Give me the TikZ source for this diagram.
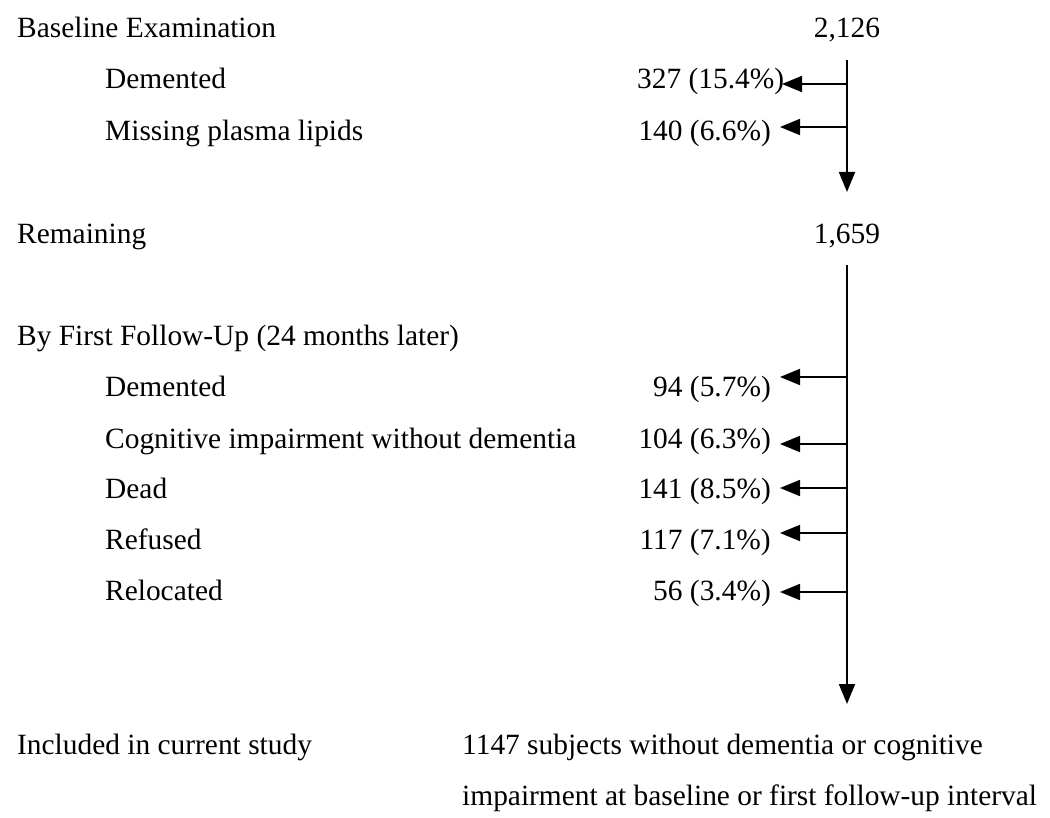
\documentclass[tikz,border=0pt]{standalone}
\usepackage{fontspec}
\setmainfont{Liberation Serif}
\usetikzlibrary{arrows.meta}
\begin{document}
\begin{tikzpicture}[x=1pt,y=-1pt,
  lbl/.style={anchor=base west,inner sep=0pt,font=\fontsize{29.4}{35}\selectfont},
  num/.style={anchor=base east,inner sep=0pt,font=\fontsize{29.4}{35}\selectfont},
  ctr/.style={anchor=base,inner sep=0pt,font=\fontsize{29.4}{35}\selectfont},
  flow/.style={line width=1.8pt,-{Triangle[length=20pt,width=16pt]}}]
\useasboundingbox (0,0) rectangle (1050,818);
% left labels
\node[lbl] (l1) at (17,38) {Baseline Examination};
\node[lbl] (l2) at (105,89) {Demented};
\node[lbl] (l3) at (105,141) {Missing plasma lipids};
\node[lbl] (l4) at (17,244) {Remaining};
\node[lbl] (l5) at (17,346) {By First Follow-Up (24 months later)};
\node[lbl] (l6) at (105,396) {Demented};
\node[lbl] (l7) at (105,448) {Cognitive impairment without dementia};
\node[lbl] (l8) at (105,498) {Dead};
\node[lbl] (l9) at (105,549) {Refused};
\node[lbl] (l10) at (105,600) {Relocated};
\node[lbl] (l11) at (17,754) {Included in current study};
% counts
\node[ctr] (n0) at (847,38) {2,126};
\node[lbl] (n1) at (637,89) {327 (15.4\%)};
\node[num] (n2) at (771,141) {140 (6.6\%)};
\node[ctr] (n3) at (847,244) {1,659};
\node[num] (n4) at (771,396) {94 (5.7\%)};
\node[num] (n5) at (771,448) {104 (6.3\%)};
\node[num] (n6) at (771,498) {141 (8.5\%)};
\node[num] (n7) at (771,549) {117 (7.1\%)};
\node[num] (n8) at (771,600) {56 (3.4\%)};
\node[lbl] (f1) at (462,754) {1147 subjects without dementia or cognitive};
\node[lbl] (f2) at (462,805) {impairment at baseline or first follow-up interval};
% connector coordinates
\coordinate (t1) at (847,60);
\coordinate (b1) at (847,192);
\coordinate (t2) at (847,265);
\coordinate (b2) at (847,704);
\coordinate (j1) at (847,84);   \coordinate (e1) at (782,84);
\coordinate (j2) at (847,127);  \coordinate (e2) at (780,127);
\coordinate (j4) at (847,377);  \coordinate (e4) at (780,377);
\coordinate (j5) at (847,444);  \coordinate (e5) at (780,444);
\coordinate (j6) at (847,488);  \coordinate (e6) at (780,488);
\coordinate (j7) at (847,533);  \coordinate (e7) at (780,533);
\coordinate (j8) at (847,592);  \coordinate (e8) at (780,592);
\draw[flow] (t1) -- (b1);
\draw[flow] (t2) -- (b2);
\draw[flow] (j1) -- (e1);
\draw[flow] (j2) -- (e2);
\draw[flow] (j4) -- (e4);
\draw[flow] (j5) -- (e5);
\draw[flow] (j6) -- (e6);
\draw[flow] (j7) -- (e7);
\draw[flow] (j8) -- (e8);
\end{tikzpicture}
\end{document}
